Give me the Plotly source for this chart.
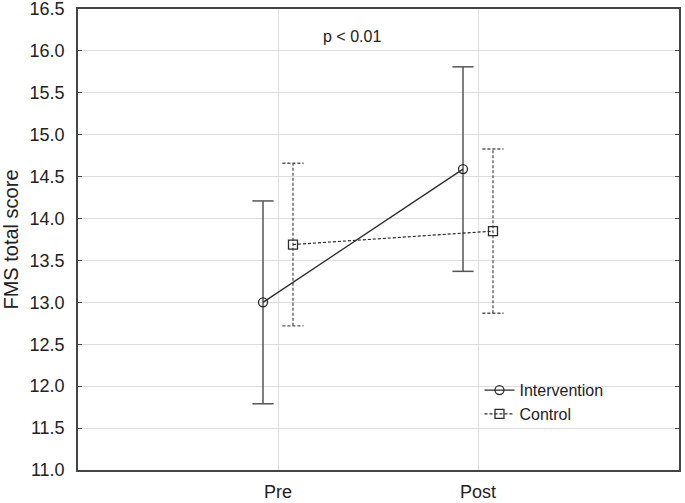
import plotly.graph_objects as go

categories = ["Pre", "Post"]
intervention_mean = [13.00, 14.59]
intervention_err = [1.21, 1.22]
control_mean = [13.69, 13.85]
control_err = [0.97, 0.98]
y_ticks = [11.0, 11.5, 12.0, 12.5, 13.0, 13.5, 14.0, 14.5, 15.0, 15.5, 16.0, 16.5]

OFFSET = 0.075
CAP = 0.053
INK = "#2b2b2b"
BAR = "#555555"
FONT = "Liberation Sans, Arial, sans-serif"

def err_segments(xs, means, errs):
    ex, ey = [], []
    for x, m, e in zip(xs, means, errs):
        lo, hi = m - e, m + e
        ex += [x, x, None, x - CAP, x + CAP, None, x - CAP, x + CAP, None]
        ey += [lo, hi, None, hi, hi, None, lo, lo, None]
    return ex, ey

idx = list(range(len(categories)))
xi = [i - OFFSET for i in idx]
xc = [i + OFFSET for i in idx]

fig = go.Figure()

ex, ey = err_segments(xi, intervention_mean, intervention_err)
fig.add_trace(go.Scatter(x=ex, y=ey, mode="lines", line=dict(color=BAR, width=1.5),
                         showlegend=False, hoverinfo="skip"))
ex, ey = err_segments(xc, control_mean, control_err)
fig.add_trace(go.Scatter(x=ex, y=ey, mode="lines", line=dict(color=BAR, width=1.3, dash="3px,2px"),
                         showlegend=False, hoverinfo="skip"))

fig.add_trace(go.Scatter(x=xi, y=intervention_mean, mode="lines+markers", name="Intervention",
                         line=dict(color=INK, width=1.3),
                         marker=dict(symbol="circle-open", size=9, color=INK, line=dict(width=1.3))))
fig.add_trace(go.Scatter(x=xc, y=control_mean, mode="lines+markers", name="Control",
                         line=dict(color=INK, width=1.2, dash="3px,2px"),
                         marker=dict(symbol="square-open", size=9, color=INK, line=dict(width=1.3))))

fig.add_annotation(x=0.37, y=16.17, xref="x", yref="y", text="p < 0.01", showarrow=False,
                   font=dict(size=16, color="#222222", family=FONT))

fig.update_layout(
    width=685, height=503,
    margin=dict(l=78, r=6, t=9, b=33, autoexpand=False),
    paper_bgcolor="white", plot_bgcolor="white",
    font=dict(family=FONT, size=17, color="#222222"),
    showlegend=True,
    legend=dict(x=0.668, y=0.21, xanchor="left", yanchor="top", bgcolor="rgba(0,0,0,0)",
                font=dict(size=16), tracegroupgap=0, itemwidth=30),
)
fig.update_xaxes(range=[-1, 2.005], tickvals=idx, ticktext=categories,
                 showgrid=True, gridcolor="#dddddd", gridwidth=1,
                 showline=True, linecolor="#444444", linewidth=1.5, mirror=True,
                 ticks="", zeroline=False, tickfont=dict(size=18),
                 automargin=False, ticklabelstandoff=5)
fig.update_yaxes(range=[11.0, 16.5], tickvals=y_ticks, ticktext=[f"{v:.1f}" for v in y_ticks],
                 showgrid=True, gridcolor="#dddddd", gridwidth=1,
                 showline=True, linecolor="#444444", linewidth=1.5, mirror="ticks",
                 ticks="inside", ticklen=4, tickcolor="#444444", zeroline=False,
                 tickfont=dict(size=18), automargin=False, ticklabelstandoff=8,
                 ticklabeloverflow="allow",
                 title=dict(text="FMS total score", font=dict(size=20), standoff=10))

fig.write_html("out.html", config={"displayModeBar": False},
               post_script="document.body.style.margin='0';")
